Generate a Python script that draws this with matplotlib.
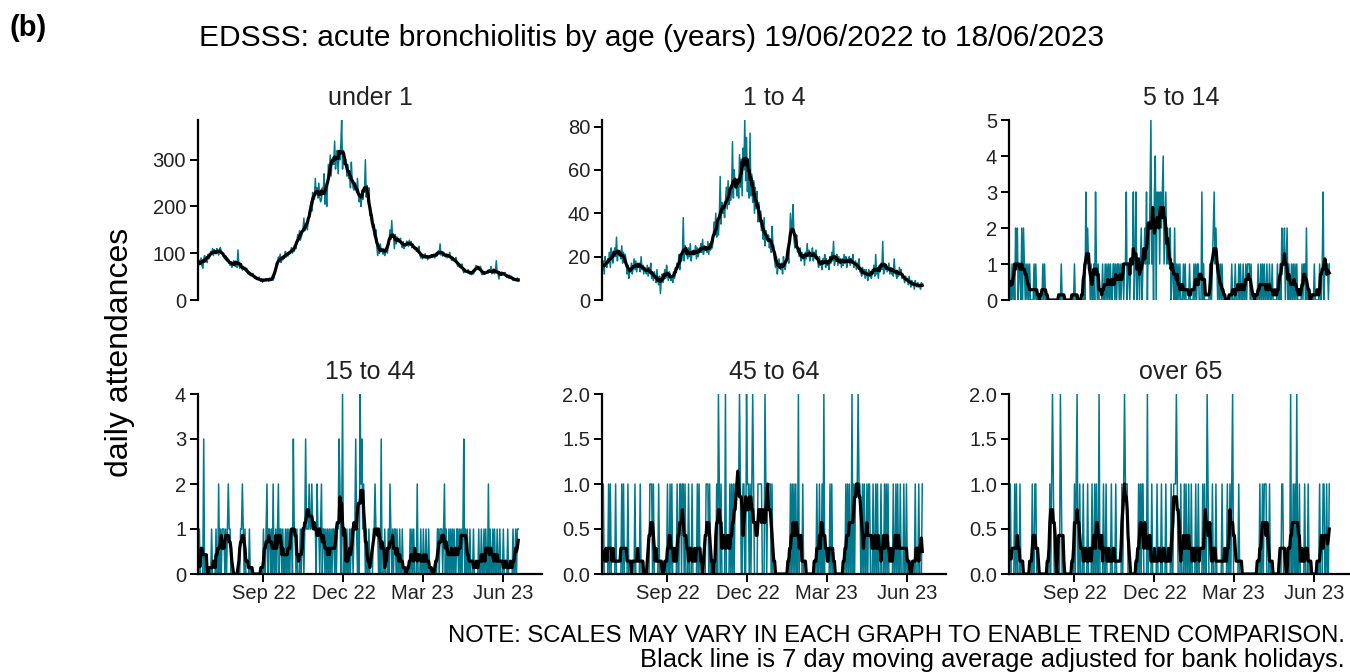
import pandas as pd
import matplotlib
matplotlib.use("Agg")
import matplotlib.pyplot as plt
import matplotlib.dates as mdates
from matplotlib.ticker import FormatStrFormatter

plt.rcParams["font.family"] = ["Liberation Sans", "DejaVu Sans"]

dates = pd.date_range("2022-06-19", "2023-06-18", freq="D")

# daily counts, one row per week (Sun..Sat)
under_1 = [
    72, 85, 78, 90, 74, 68, 88,
    95, 84, 92, 80, 98, 88, 96,
    104, 98, 110, 95, 108, 100, 99,
    110, 102, 96, 108, 112, 104, 100,
    98, 92, 88, 95, 84, 90, 86,
    80, 74, 82, 70, 78, 84, 76,
    72, 80, 70, 107, 75, 68, 78,
    70, 64, 72, 66, 70, 62, 68,
    60, 55, 58, 52, 56, 54, 57,
    50, 46, 48, 44, 47, 45, 49,
    42, 40, 45, 38, 44, 41, 43,
    46, 42, 44, 40, 47, 43, 45,
    44, 42, 48, 58, 70, 80, 78,
    92, 84, 98, 80, 88, 86, 90,
    96, 104, 92, 100, 94, 102, 98,
    106, 112, 100, 110, 104, 114, 110,
    125, 140, 130, 148, 128, 135, 142,
    150, 175, 148, 160, 155, 150, 170,
    180, 195, 210, 190, 230, 215, 215,
    260, 225, 240, 218, 250, 220, 210,
    215, 240, 230, 270, 205, 235, 200,
    250, 290, 275, 310, 265, 300, 305,
    290, 340, 280, 305, 320, 270, 315,
    300, 330, 385, 280, 320, 290, 300,
    300, 265, 290, 260, 275, 240, 295,
    255, 240, 235, 250, 245, 230, 260,
    225, 210, 220, 200, 230, 215, 240,
    230, 300, 220, 245, 210, 240, 180,
    190, 170, 155, 165, 150, 140, 150,
    115, 95, 110, 100, 120, 105, 110,
    98, 110, 95, 105, 112, 100, 115,
    125, 150, 130, 170, 135, 140, 110,
    140, 120, 135, 125, 130, 128, 132,
    118, 112, 125, 110, 120, 115, 126,
    122, 115, 128, 118, 125, 112, 120,
    115, 108, 112, 104, 110, 106, 115,
    96, 90, 98, 88, 95, 92, 99,
    90, 95, 86, 94, 90, 92, 97,
    96, 92, 98, 90, 100, 94, 95,
    105, 98, 120, 96, 102, 94, 100,
    100, 92, 98, 90, 96, 94, 102,
    92, 85, 90, 84, 88, 86, 91,
    80, 72, 78, 70, 76, 72, 77,
    64, 58, 66, 60, 62, 59, 65,
    60, 55, 58, 54, 62, 56, 61,
    68, 74, 66, 72, 70, 68, 72,
    58, 54, 60, 55, 56, 58, 59,
    62, 58, 64, 60, 72, 56, 58,
    60, 56, 62, 84, 58, 55, 45,
    58, 54, 60, 55, 57, 56, 59,
    52, 48, 50, 47, 53, 49, 51,
    45, 42, 46, 43, 44, 41, 47,
    40,
]

age_1_4 = [
    14, 18, 12, 20, 16, 15, 19,
    17, 22, 15, 24, 19, 17, 21,
    24, 20, 29, 18, 23, 21, 22,
    19, 25, 17, 22, 18, 21, 18,
    12, 16, 10, 14, 13, 17, 12,
    15, 19, 14, 18, 13, 17, 16,
    17, 13, 20, 14, 16, 12, 15,
    14, 12, 16, 11, 15, 13, 17,
    10, 12, 9, 13, 11, 8, 14,
    9, 7, 11, 3, 10, 12, 8,
    11, 14, 10, 16, 12, 9, 13,
    12, 9, 11, 8, 13, 10, 14,
    13, 17, 15, 21, 14, 19, 18,
    20, 38, 18, 25, 22, 21, 19,
    24, 20, 26, 18, 22, 21, 23,
    21, 25, 19, 24, 20, 23, 22,
    26, 22, 28, 21, 25, 23, 24,
    22, 27, 21, 26, 23, 25, 24,
    28, 36, 30, 40, 29, 33, 30,
    38, 57, 35, 45, 40, 42, 38,
    45, 52, 42, 55, 44, 47, 46,
    50, 73, 47, 60, 52, 55, 48,
    55, 47, 67, 52, 65, 48, 70,
    60, 83, 55, 75, 50, 65, 47,
    77, 48, 58, 45, 55, 40, 52,
    42, 50, 36, 45, 38, 41, 32,
    34, 28, 38, 25, 32, 30, 27,
    30, 24, 28, 22, 34, 26, 25,
    18, 15, 20, 12, 16, 19, 15,
    14, 17, 12, 20, 16, 14, 18,
    19, 22, 17, 28, 40, 30, 35,
    44, 28, 24, 26, 30, 22, 23,
    20, 24, 18, 22, 19, 21, 16,
    22, 19, 26, 20, 23, 18, 21,
    20, 24, 18, 22, 21, 23, 19,
    18, 15, 20, 16, 17, 14, 19,
    17, 21, 15, 19, 16, 18, 14,
    20, 17, 22, 18, 27, 16, 19,
    18, 21, 16, 20, 17, 19, 15,
    19, 16, 21, 17, 20, 15, 18,
    18, 20, 16, 19, 17, 21, 15,
    16, 18, 14, 17, 15, 19, 13,
    13, 11, 15, 12, 14, 10, 14,
    12, 9, 14, 11, 13, 10, 12,
    13, 16, 11, 21, 12, 14, 10,
    15, 13, 17, 14, 27, 12, 16,
    14, 16, 13, 15, 17, 12, 15,
    12, 14, 11, 19, 13, 12, 10,
    13, 11, 15, 12, 14, 10, 12,
    10, 8, 11, 9, 10, 7, 11,
    8, 6, 9, 7, 8, 5, 9,
    7, 6, 8, 6, 7, 5, 8,
    7,
]

age_5_14 = """
1001010 2120110 2021010 1010000 1010000 0001010 0000000 0000000 0001000 0000000
0000100 0000000 0103121 1010010 3101000 0100101 0101001 1010110 1011011 3011011
1301301 1012011 2130213 5120340 3231323 4123121 1201102 0101010 0010100 0010000
1010110 0030100 0000100 1231210 1010100 0000000 0100010 0010100 1001011 1010000
0001001 0101001 0010010 0000100 1021120 1201001 0101010 0000101 1020000 0000100
0001001 3011110 1
"""

age_15_44 = """
0100003 0000000 0100001 0020101 1101012 1100000 0000001 1210100 0010000 0000000
0000100 1201101 0200101 2011010 0101010 1103110 1000101 1013111 2112111 1021101
2011010 1010101 1010113 2014010 0100101 1011310 1042312 1010010 0001121 1101030
0010001 0210101 1010010 0100000 0001010 1000200 0100100 1001000 0000001 1011101
2010010 1010100 1101010 1301010 0100010 0000100 1001010 0201001 0100100 1000100
0010000 0100101 1
"""

age_45_64 = """
0100000 1010000 0100000 0101000 0100000 0010000 0100000 0000011 1010000 0100000
0000100 1010000 0100110 1101000 1000100 0001010 0000001 1101000 0000102 1010000
2000010 1010111 1121001 1002110 1012100 0011111 0002101 1110100 0000000 0000000
0000101 0101002 0000100 0000000 0000001 0010010 2000000 1010000 0000000 0000101
0100201 0111211 0010100 1011000 1001010 0010001 0101000 0010010 1001000 1001000
0000001 0001000 1
"""

over_65 = """
0100001 0100010 0000000 0000010 0110000 0000000 0000101 2100000 0021000 0000000
0000101 2001000 1000010 0001001 0100200 0010010 0000100 0010000 0010121 1100000
0000000 1010110 0002000 0100000 1000010 0001000 0010011 1210001 0001010 0100100
0010010 0001010 0210000 1000100 0000100 0001001 0120000 0010000 0000000 0000000
0000010 0101110 0010000 0000000 0011000 0000020 0101020 0100000 1000100 0000000
0001000 1100100 1
"""


def digits(s):
    return [int(c) for c in s if c.isdigit()]


panels = [
    ("under 1", under_1, [0, 100, 200, 300], "%d"),
    ("1 to 4", age_1_4, [0, 20, 40, 60, 80], "%d"),
    ("5 to 14", digits(age_5_14), [0, 1, 2, 3, 4, 5], "%d"),
    ("15 to 44", digits(age_15_44), [0, 1, 2, 3, 4], "%d"),
    ("45 to 64", digits(age_45_64), [0, 0.5, 1.0, 1.5, 2.0], "%.1f"),
    ("over 65", digits(over_65), [0, 0.5, 1.0, 1.5, 2.0], "%.1f"),
]

teal = "#00798c"
fig = plt.figure(figsize=(13.5, 6.72), dpi=100)

lefts = [198, 602, 1009]
tops = [120, 394]
w_px, h_px = 344, 180

for i, (name, vals, ticks, fmt) in enumerate(panels):
    assert len(vals) == len(dates), (name, len(vals))
    row, col = divmod(i, 3)
    ax = fig.add_axes([lefts[col] / 1350, (672 - tops[row] - h_px) / 672,
                       w_px / 1350, h_px / 672])
    s = pd.Series(vals, index=dates, dtype=float)
    ma = s.rolling(7, center=True, min_periods=1).mean()
    ax.plot(s.index, s.values, color=teal, lw=1.1)
    ax.plot(ma.index, ma.values, color="black", lw=2.3)
    ax.set_xlim(pd.Timestamp("2022-06-18 12:00"), pd.Timestamp("2023-07-15"))
    ax.set_ylim(0, max(vals))
    ax.set_yticks(ticks)
    ax.yaxis.set_major_formatter(FormatStrFormatter(fmt))
    ax.set_title(name, fontsize=18, pad=11, color="#222222")
    for sp in ["top", "right"]:
        ax.spines[sp].set_visible(False)
    ax.spines["left"].set_linewidth(1.6)
    ax.spines["bottom"].set_linewidth(1.6)
    ax.tick_params(axis="both", length=5.5, width=1.4, labelsize=14.5,
                   labelcolor="#222222", pad=3)
    ax.xaxis.set_major_locator(mdates.MonthLocator(bymonth=[3, 6, 9, 12]))
    ax.xaxis.set_major_formatter(mdates.DateFormatter("%b %y"))
    if row == 0:
        ax.spines["bottom"].set_visible(False)
        ax.tick_params(axis="x", bottom=False, labelbottom=False)
    else:
        ax.tick_params(axis="x", pad=2)

fig.text(0.483, 0.943, "EDSSS: acute bronchiolitis by age (years) 19/06/2022 to 18/06/2023",
         ha="center", va="center", fontsize=21.5)
fig.text(0.007, 0.958, "(b)", ha="left", va="center", fontsize=21, fontweight="bold")
fig.text(0.089, 0.476, "daily attendances", rotation=90, ha="center", va="center",
         fontsize=23)
fig.text(0.996, 0.054, "NOTE: SCALES MAY VARY IN EACH GRAPH TO ENABLE TREND COMPARISON.",
         ha="right", va="center", fontsize=17.2)
fig.text(0.996, 0.018, "Black line is 7 day moving average adjusted for bank holidays.",
         ha="right", va="center", fontsize=18.4)

fig.savefig("out.png", dpi=100)
